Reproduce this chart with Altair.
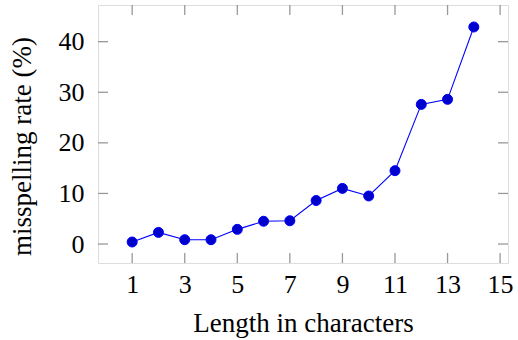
import altair as alt
import pandas as pd

lengths = list(range(1, 15))
rates = [0.4, 2.3, 0.85, 0.85, 2.9, 4.5, 4.6, 8.6, 11.0, 9.5, 14.5, 27.6, 28.6, 42.9]
x_ticks = [1, 3, 5, 7, 9, 11, 13, 15]
y_ticks = [0, 10, 20, 30, 40]

W, H = 410, 258
FONT = "Liberation Serif"
FS = 26
TFS = 27
TICK_COLOR = "#999999"
TL = 10

df = pd.DataFrame({"len": lengths, "rate": rates})
xt = pd.DataFrame({"t": x_ticks})
yt = pd.DataFrame({"t": y_ticks})

xs = alt.Scale(domain=[-0.3, 15.3], nice=False, zero=False)
ys = alt.Scale(domain=[-3.75, 47.25], nice=False, zero=False)

xaxis = alt.Axis(
    values=x_ticks, grid=False, ticks=False, tickSize=0, domain=False,
    labelFont=FONT, labelFontSize=FS, labelColor="black", labelPadding=29,
    labelBaseline="alphabetic", labelFlush=False, labelOverlap=False,
    title="Length in characters", titleFont=FONT, titleFontSize=TFS,
    titleFontWeight="normal", titleColor="black", titleBaseline="alphabetic",
    titleX=W / 2, titleY=68, titleAlign="center",
)
yaxis = alt.Axis(
    values=y_ticks, grid=False, ticks=False, tickSize=0, domain=False,
    labelFont=FONT, labelFontSize=FS, labelColor="black", labelPadding=14,
    labelBaseline="middle", labelFlush=False, labelOverlap=False,
    title="misspelling rate (%)", titleFont=FONT, titleFontSize=TFS,
    titleFontWeight="normal", titleColor="black", titleAngle=270,
    titleX=-76, titleY=141, titleAlign="center", titleBaseline="middle",
)

line = alt.Chart(df).mark_line(color="#0000ff", strokeWidth=1.1).encode(
    x=alt.X("len:Q", scale=xs, axis=xaxis),
    y=alt.Y("rate:Q", scale=ys, axis=yaxis),
)
pts = alt.Chart(df).mark_circle(size=100, color="#0000cc", opacity=1,
                                stroke="#0000ff", strokeWidth=1).encode(
    x=alt.X("len:Q", scale=xs),
    y=alt.Y("rate:Q", scale=ys),
)

bottom_ticks = alt.Chart(xt).mark_rule(color=TICK_COLOR, strokeWidth=1.3).encode(
    x=alt.X("t:Q", scale=xs), y=alt.value(H), y2=alt.value(H - TL))
top_ticks = alt.Chart(xt).mark_rule(color=TICK_COLOR, strokeWidth=1.3).encode(
    x=alt.X("t:Q", scale=xs), y=alt.value(0), y2=alt.value(TL))
left_ticks = alt.Chart(yt).mark_rule(color=TICK_COLOR, strokeWidth=1.3).encode(
    y=alt.Y("t:Q", scale=ys), x=alt.value(0), x2=alt.value(TL))
right_ticks = alt.Chart(yt).mark_rule(color=TICK_COLOR, strokeWidth=1.3).encode(
    y=alt.Y("t:Q", scale=ys), x=alt.value(W), x2=alt.value(W - TL))

chart = alt.layer(line, bottom_ticks, top_ticks, left_ticks, right_ticks, pts).properties(
    width=W, height=H,
    autosize=alt.AutoSizeParams(type="none"),
    padding={"left": 98, "top": 5, "right": 10, "bottom": 77},
).configure_view(stroke="black", strokeWidth=1.3).configure(background="white")

chart.save("out.html", embed_options={"renderer": "svg", "actions": False})
